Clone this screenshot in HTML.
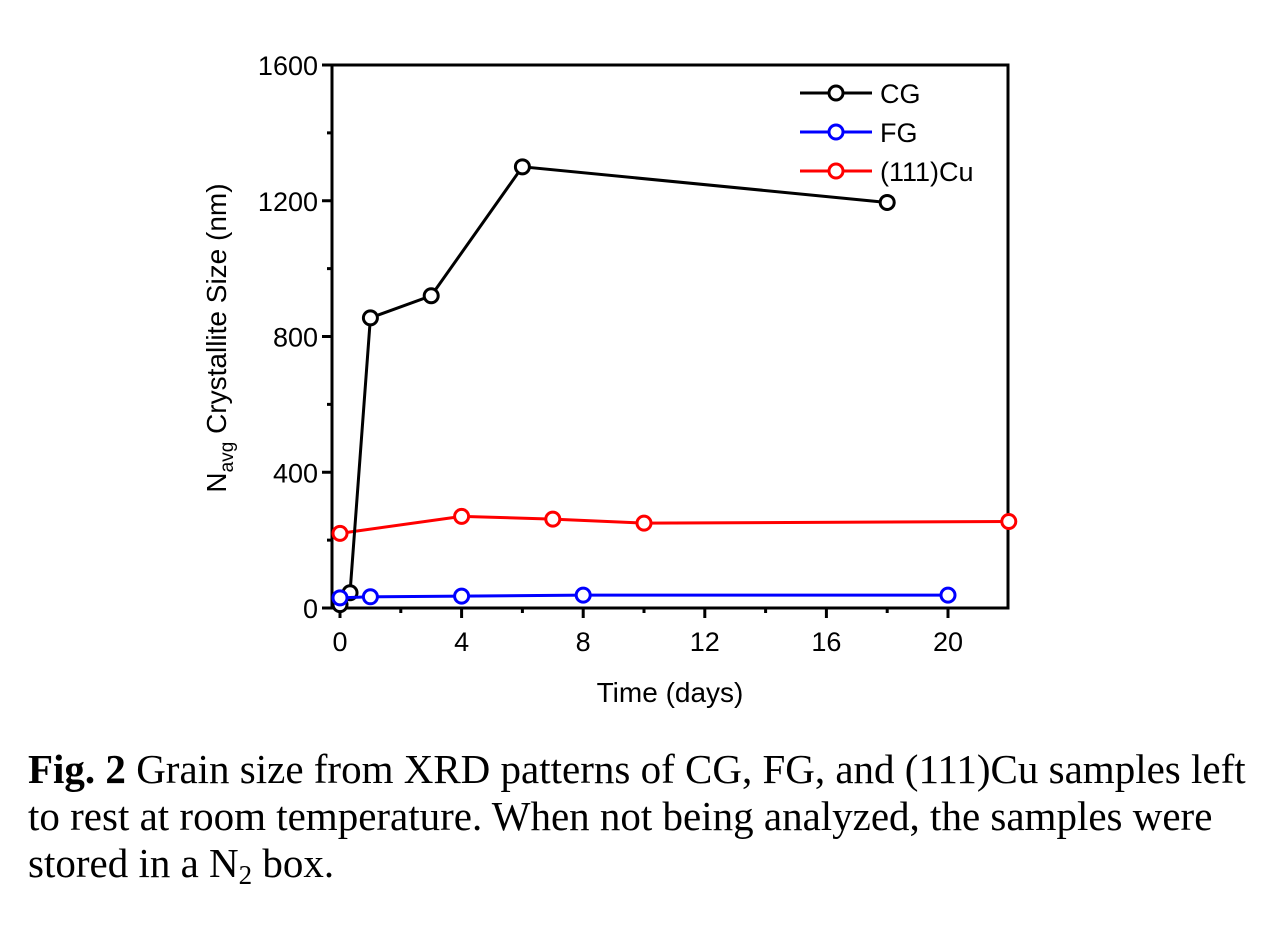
<!DOCTYPE html>
<html><head><meta charset="utf-8"><style>
body{margin:0;background:#fff;width:1276px;height:952px;overflow:hidden}
svg{position:absolute;left:0;top:0}
.cap{position:absolute;left:28px;top:746px;width:1260px;white-space:nowrap;font-family:"Liberation Serif",serif;font-size:41px;line-height:47px;color:#000}
</style></head><body>
<svg width="1276" height="740" id="chart" font-family="Liberation Sans, sans-serif"></svg>
<div class="cap"><b>Fig. 2</b> Grain size from XRD patterns of CG, FG, and (111)Cu samples left<br>to rest at room temperature. When not being analyzed, the samples were<br>stored in a N<sub style="font-size:27px;vertical-align:-7px;line-height:0">2</sub> box.</div>
<script>
const cgX=[0,0.33,1,3,6,18];
const cgY=[10,45,855,920,1300,1195];
const fgX=[0,1,4,8,20];
const fgY=[30,33,35,38,38];
const cuX=[0,4,7,10,22];
const cuY=[220,270,262,250,255];
const xTicks=[0,4,8,12,16,20];
const yTicks=[0,400,800,1200,1600];
const NS="http://www.w3.org/2000/svg";
const svg=document.getElementById('chart');
const L=332,R=1008,T=65,B=608;
const X0=340,X20=948;
function sx(v){return X0+(X20-X0)*v/20;}
function sy(v){return B-(B-T)*v/1600;}
function el(t,a,p){const e=document.createElementNS(NS,t);for(const k in a)e.setAttribute(k,a[k]);(p||svg).appendChild(e);return e;}
const frame=el('rect',{x:L,y:T,width:R-L,height:B-T,fill:'none',stroke:'#000','stroke-width':3});


xTicks.forEach(v=>{
  const t=el('line',{x1:sx(v),x2:sx(v),y1:B,y2:B+10,stroke:'#000','stroke-width':3});
  
  
  const l=el('text',{x:sx(v),y:B+43,'text-anchor':'middle','font-size':27});
  l.textContent=v;
  
  
});
for(let v=2;v<22;v+=4){
  const t=el('line',{x1:sx(v),x2:sx(v),y1:B,y2:B+5,stroke:'#000','stroke-width':3});
  
  
}
yTicks.forEach(v=>{
  const t=el('line',{x1:L-10,x2:L,y1:sy(v),y2:sy(v),stroke:'#000','stroke-width':3});
  
  
  const l=el('text',{x:L-14,y:sy(v)+10,'text-anchor':'end','font-size':27});
  l.textContent=v;
  
  
});
for(let v=200;v<1600;v+=400){
  const t=el('line',{x1:L-5,x2:L,y1:sy(v),y2:sy(v),stroke:'#000','stroke-width':3});
  
  
}
const xt=el('text',{x:670,y:702,'text-anchor':'middle','font-size':28});
xt.textContent='Time (days)';


const yt=el('text',{x:0,y:0,'text-anchor':'middle','font-size':28,transform:'translate(226,338) rotate(-90)'});
yt.innerHTML='N<tspan font-size="19" dy="7">avg</tspan><tspan dy="-7"> Crystallite Size (nm)</tspan>';


function series(xs,ys,c,name){
  const g=el('g',{});
  
  
  const p=el('polyline',{points:xs.map((x,i)=>sx(x)+','+sy(ys[i])).join(' '),fill:'none',stroke:c,'stroke-width':3},g);
  
  
  xs.forEach((x,i)=>{
    const m=el('circle',{cx:sx(x),cy:sy(ys[i]),r:7,fill:'#fff',stroke:c,'stroke-width':3},g);
    
    
  });
}
series(cuX,cuY,'#ff0000','cu111');
series(cgX,cgY,'#000','cg');
series(fgX,fgY,'#0000ff','fg');
[['CG','#000',93],['FG','#0000ff',132],['(111)Cu','#ff0000',171]].forEach(([n,c,y])=>{
  const g=el('g',{});
  
  
  el('line',{x1:800,x2:872,y1:y,y2:y,stroke:c,'stroke-width':3},g);
  el('circle',{cx:836,cy:y,r:7,fill:'#fff',stroke:c,'stroke-width':3},g);
  const t=el('text',{x:880,y:y+10,'font-size':27},g);
  t.textContent=n;
});
</script>
</body></html>
